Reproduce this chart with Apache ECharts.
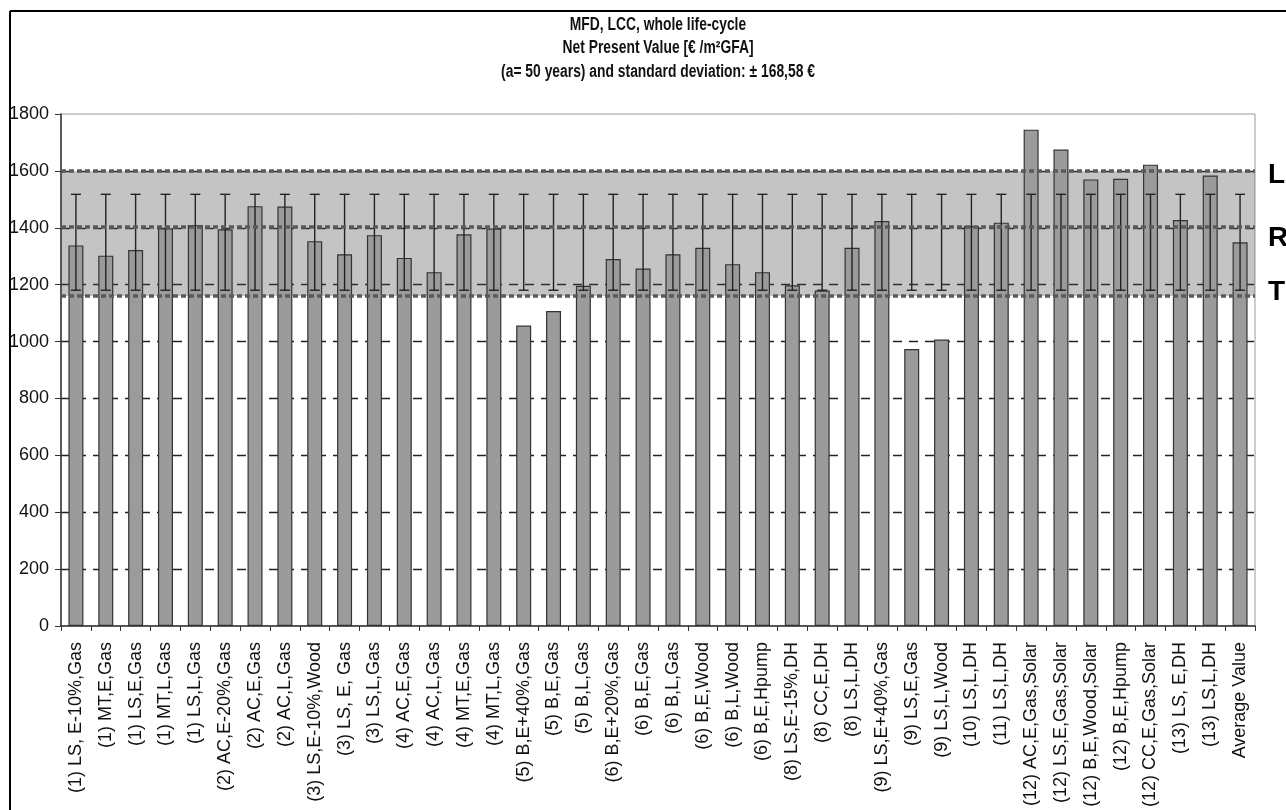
<!DOCTYPE html>
<html>
<head>
<meta charset="utf-8">
<title>MFD, LCC, whole life-cycle</title>
<script src="https://cdn.jsdelivr.net/npm/echarts@6/dist/echarts.min.js"></script>
<style>
  html, body { margin: 0; padding: 0; background: #fff; }
  #chart { width: 1286px; height: 810px; }
</style>
</head>
<body>
<div id="chart"></div>
<script>
// Building variants (categories on the x axis)
const categories = [
  '(1) LS, E-10%,Gas', '(1) MT,E,Gas', '(1) LS,E,Gas', '(1) MT,L,Gas', '(1) LS,L,Gas',
  '(2) AC,E-20%,Gas', '(2) AC,E,Gas', '(2) AC,L,Gas', '(3) LS,E-10%,Wood', '(3) LS, E, Gas',
  '(3) LS,L,Gas', '(4) AC,E,Gas', '(4) AC,L,Gas', '(4) MT,E,Gas', '(4) MT,L,Gas',
  '(5) B,E+40%,Gas', '(5) B,E,Gas', '(5) B,L,Gas', '(6) B,E+20%,Gas', '(6) B,E,Gas',
  '(6) B,L,Gas', '(6) B,E,Wood', '(6) B,L,Wood', '(6) B,E,Hpump', '(8) LS,E-15%,DH',
  '(8) CC,E,DH', '(8) LS,L,DH', '(9) LS,E+40%,Gas', '(9) LS,E,Gas', '(9) LS,L,Wood',
  '(10) LS,L,DH', '(11) LS,L,DH', '(12) AC,E,Gas,Solar', '(12) LS,E,Gas,Solar', '(12) B,E,Wood,Solar',
  '(12) B,E,Hpump', '(12) CC,E,Gas,Solar', '(13) LS, E,DH', '(13) LS,L,DH', 'Average Value'
];

// Net present value per variant [€/m²GFA]
const npvValues = [
  1338, 1302, 1322, 1398, 1410,
  1395, 1476, 1475, 1353, 1307,
  1374, 1294, 1244, 1377, 1397,
  1056, 1107, 1196, 1290, 1257,
  1307, 1330, 1272, 1244, 1198,
  1179, 1330, 1424, 974, 1007,
  1406, 1418, 1745, 1675, 1570,
  1572, 1622, 1427, 1584, 1349
];

// Standard deviation around the average value
const averageValue = 1349;
const standardDeviation = 168.58;

// Reference band and its three level lines (labelled on the right)
const bandRange = [1160, 1600];
const levelValues = [1600, 1405, 1160];
const levelNames = ['L', 'R', 'T'];

// Title lines
const titleLines = [
  'MFD, LCC, whole life-cycle',
  'Net Present Value [€ /m²GFA]',
  '(a= 50 years) and standard deviation: ± 168,58 €'
];

// Y axis ticks
const yMin = 0, yMax = 1800, yStep = 200;

const FONT = '"Liberation Sans", Arial, sans-serif';

const errorData = categories.map((c, i) => [i, averageValue - standardDeviation, averageValue + standardDeviation]);

// Offsets that keep each level letter beside its line
const levelLabelOffsets = [[0, 4], [0, 12], [0, -4]];

const chart = echarts.init(document.getElementById('chart'), null, { renderer: 'canvas' });

chart.setOption({
  backgroundColor: '#ffffff',
  animation: false,
  textStyle: { fontFamily: FONT },
  grid: {
    left: 61, right: 31, top: 114, bottom: 182,
    show: true, borderColor: '#9a9a9a', borderWidth: 1, backgroundColor: 'transparent'
  },
  graphic: [
    { type: 'line', shape: { x1: 10, y1: 11, x2: 10, y2: 810 }, style: { stroke: '#000', lineWidth: 2 } },
    { type: 'line', shape: { x1: 10, y1: 11, x2: 1286, y2: 11 }, style: { stroke: '#000', lineWidth: 2 } },
    {
      type: 'text',
      x: 658, y: 13,
      scaleX: 0.77,
      style: {
        text: titleLines.join('\n'),
        fontFamily: FONT,
        fontSize: 18,
        fontWeight: 'bold',
        fill: '#111',
        align: 'center',
        verticalAlign: 'top',
        lineHeight: 23.5
      }
    }
  ],
  xAxis: {
    type: 'category',
    data: categories,
    axisLine: { lineStyle: { color: '#333', width: 1.5 } },
    axisTick: { show: true, alignWithLabel: false, length: 5, lineStyle: { color: '#333' } },
    axisLabel: {
      rotate: 90, interval: 0, margin: 16,
      fontFamily: FONT, fontSize: 18, color: '#111'
    },
    splitLine: { show: false }
  },
  yAxis: {
    type: 'value',
    min: yMin, max: yMax, interval: yStep,
    axisLine: { show: true, lineStyle: { color: '#333', width: 1.5 } },
    axisTick: { show: true, inside: false, length: 6, lineStyle: { color: '#333' } },
    axisLabel: {
      fontFamily: FONT, fontSize: 18, color: '#111', margin: 12,
      formatter: function (v) { return String(v); }
    },
    splitLine: { show: true, showMinLine: false, showMaxLine: false, lineStyle: { color: '#222', type: [9, 7], width: 1.4 } }
  },
  series: [
    {
      name: 'NPV',
      type: 'bar',
      data: npvValues,
      barWidth: 15,
      z: 2,
      itemStyle: { color: '#9b9b9b', borderColor: '#333', borderWidth: 1.2 }
    },
    {
      name: 'band',
      type: 'line',
      data: [],
      z: 3,
      silent: true,
      markArea: {
        silent: true,
        itemStyle: { color: 'rgba(70,70,70,0.32)' },
        data: [[{ yAxis: bandRange[1] }, { yAxis: bandRange[0] }]]
      }
    },
    {
      name: 'std',
      type: 'custom',
      z: 4,
      data: errorData,
      encode: { x: 0, y: [1, 2] },
      renderItem: function (params, api) {
        const x = api.coord([api.value(0), 0])[0];
        const lo = api.coord([api.value(0), api.value(1)])[1];
        const hi = api.coord([api.value(0), api.value(2)])[1];
        const half = 5;
        const style = { stroke: '#222', lineWidth: 1.4 };
        return {
          type: 'group',
          children: [
            { type: 'line', shape: { x1: x, y1: hi, x2: x, y2: lo }, style: style },
            { type: 'line', shape: { x1: x - half, y1: hi, x2: x + half, y2: hi }, style: style },
            { type: 'line', shape: { x1: x - half, y1: lo, x2: x + half, y2: lo }, style: style }
          ]
        };
      }
    },
    {
      name: 'levels',
      type: 'line',
      data: [],
      z: 5,
      silent: true,
      markLine: {
        silent: true,
        symbol: ['none', 'none'],
        lineStyle: { color: '#5a5a5a', type: [5, 3], width: 3.5 },
        label: {
          show: true, position: 'end', distance: 13,
          fontFamily: FONT, fontSize: 28, fontWeight: 'bold', color: '#000',
          formatter: function (p) { return p.name; }
        },
        data: levelValues.map((v, i) => ({
          yAxis: v, name: levelNames[i],
          label: { offset: levelLabelOffsets[i] }
        }))
      }
    }
  ]
});
</script>
</body>
</html>
